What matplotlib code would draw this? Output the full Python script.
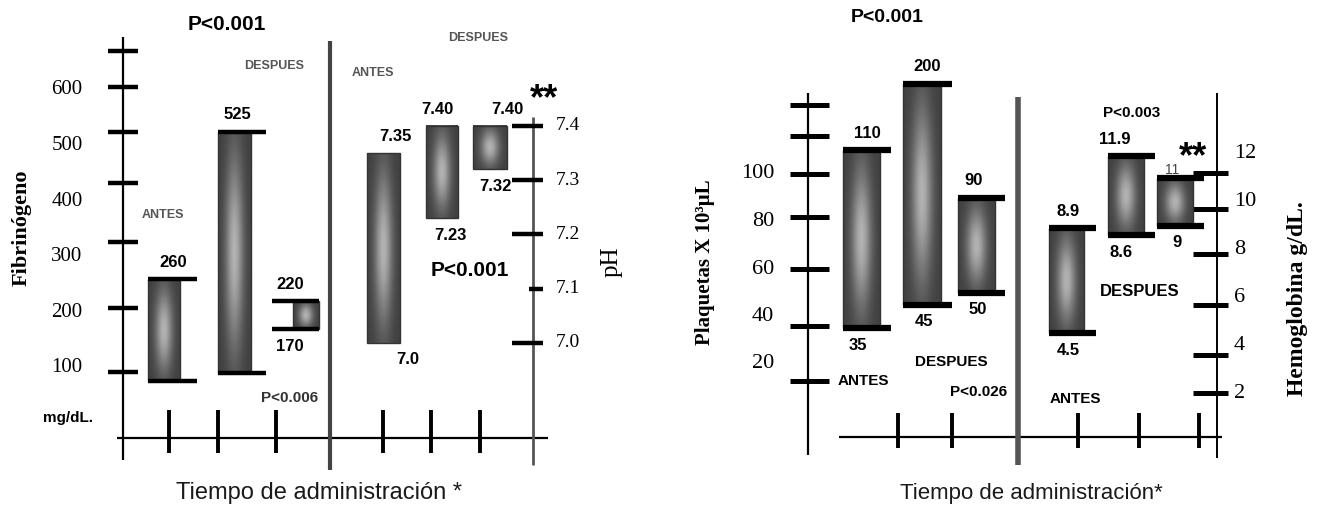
import matplotlib
matplotlib.use('Agg')
import matplotlib.pyplot as plt
import numpy as np
from matplotlib.patches import Rectangle

# ---- data ----
# left panel: fibrinogen (mg/dL) and pH, right panel: platelets (x10^3/uL) and haemoglobin (g/dL)
fib_hi = [260, 525, 220]
fib_lo = [77, 91, 170]          # first two bottoms are not labelled in the original
fib_hi_txt = ['260', '525', '220']
fib_lo_txt = ['', '', '170']
fib_labels = [100, 200, 300, 400, 500, 600]
fib_marks = [93, 208, 327, 433, 525, 605, 670]   # hand drawn tick marks, axis units

ph_hi = [7.35, 7.40, 7.40]
ph_lo = [7.0, 7.23, 7.32]
ph_hi_txt = ['7.35', '7.40', '7.40']
ph_lo_txt = ['7.0', '7.23', '7.32']
ph_labels = [7.0, 7.1, 7.2, 7.3, 7.4]

plq_hi = [110, 138, 90]         # the "200" bar is drawn off scale in the original
plq_lo = [35, 45, 50]
plq_hi_txt = ['110', '200', '90']
plq_lo_txt = ['35', '45', '50']
plq_labels = [20, 40, 60, 80, 100]
plq_marks = [13, 36, 60, 82, 100, 116, 129]

hb_hi = [8.9, 11.9, 11]
hb_lo = [4.5, 8.6, 9]
hb_hi_txt = ['8.9', '11.9', '11']
hb_lo_txt = ['4.5', '8.6', '9']
hb_labels = [2, 4, 6, 8, 10, 12]
hb_marks = [2.0, 3.6, 5.7, 7.8, 9.7, 11.2]

# ---- layout (figure pixels) ----
W, H = 1320, 507
SANS = ['Liberation Sans', 'DejaVu Sans']
NARROW = ['Liberation Sans Narrow', 'Liberation Sans', 'DejaVu Sans']
SERIF = ['Liberation Serif', 'DejaVu Serif']

fig = plt.figure(figsize=(W / 100, H / 100), dpi=100)
fig.patch.set_facecolor('white')

base = fig.add_axes([0, 0, 1, 1], label='base')
base.set_xlim(0, W)
base.set_ylim(H, 0)
base.set_axis_off()


def value_axes(name, v0, p0, v1, p1):
    # v0 is drawn at pixel row p0 (from the top), v1 at p1
    s = (p0 - p1) / (v1 - v0)
    ax = fig.add_axes([0, 0, 1, 1], label=name)
    ax.set_axis_off()
    ax._lims = (v0 - (H - p0) / s, v0 + p0 / s)
    return ax


def shade():
    u = np.linspace(-1, 1, 40)
    w = np.linspace(-1, 1, 120)
    U, V = np.meshgrid(u, w)
    b = np.exp(-(U / 0.55) ** 2) * np.exp(-(V / 0.8) ** 2)
    return 0.25 + 0.45 * b


def draw_bars(ax, rects, caps, lo, hi, hi_txt, lo_txt, dx_hi, dx_lo, dy_hi=None,
              cap_lw=3.2, fs=12):
    if dy_hi is None:
        dy_hi = [17] * len(rects)
    for i in range(len(rects)):
        x0, x1 = rects[i]
        ax.imshow(shade(), extent=(x0, x1, lo[i], hi[i]), cmap='gray', vmin=0, vmax=1,
                  aspect='auto', interpolation='bilinear', zorder=2)
        ax.add_patch(Rectangle((x0, lo[i]), x1 - x0, hi[i] - lo[i], fill=False,
                               ec='#333333', lw=1.0, zorder=3))
        if caps is not None:
            ax.hlines([lo[i], hi[i]], caps[i][0], caps[i][1], color='black', lw=cap_lw, zorder=4)
        cx = (x0 + x1) / 2
        if hi_txt[i]:
            small = dy_hi[i] < 12
            ax.annotate(hi_txt[i], (cx, hi[i]), xytext=(dx_hi[i], dy_hi[i]),
                        textcoords='offset pixels', ha='center', va='center',
                        fontsize=10 if small else fs, fontweight='normal' if small else 'bold',
                        color='#444444' if small else 'black', family=SANS, zorder=5)
        if lo_txt[i]:
            ax.annotate(lo_txt[i], (cx, lo[i]), xytext=(dx_lo[i], -17), textcoords='offset pixels',
                        ha='center', va='center', fontsize=fs, fontweight='bold', family=SANS)


fib_ax = value_axes('fib', 100, 368, 600, 90)
ph_ax = value_axes('ph', 7.0, 343, 7.4, 126)
plq_ax = value_axes('plq', 20, 364, 100, 174)
hb_ax = value_axes('hb', 2, 393, 12, 154)

# ---- left panel frame ----
base.vlines(123, 37, 460, color='black', lw=1.6)
base.hlines(438, 117, 548, color='black', lw=1.6)
base.vlines([169, 218, 276, 383, 431, 480], 410, 453, color='black', lw=2.8)
base.vlines(330, 41, 470, color='#444444', lw=3)
base.vlines(533, 117, 465, color='#555555', lw=2)

fib_ax.hlines(fib_marks, 108, 138, color='black', lw=3.2)
for v in fib_labels:
    fib_ax.text(67, v, str(v), ha='center', va='center', fontsize=15, family=SERIF)
ph_ax.hlines(ph_labels, [512, 529, 512, 512, 512], 543, color='black', lw=3.2)
for v in ph_labels:
    ph_ax.text(556, v, f'{v:.1f}', ha='left', va='center', fontsize=14, family=SERIF)

draw_bars(fib_ax, [(148, 180), (218, 251), (293, 319)], [(148, 197), (218, 266), (272, 319)],
          fib_lo, fib_hi, fib_hi_txt, fib_lo_txt, [9, 3, -16], [0, 0, -16])
draw_bars(ph_ax, [(367, 400), (426, 458), (473, 507)], None,
          ph_lo, ph_hi, ph_hi_txt, ph_lo_txt, [12, -5, 17], [24, 8, 5])

base.text(227, 25, 'P<0.001', ha='center', va='center', fontsize=15, fontweight='bold', family=SANS)
base.text(470, 270, 'P<0.001', ha='center', va='center', fontsize=15, fontweight='bold', family=SANS)
base.text(290, 398, 'P<0.006', ha='center', va='center', fontsize=11, fontweight='bold',
          family=NARROW, color='#333333')
for x, y, s in [(274, 66, 'DESPUES'), (163, 215, 'ANTES'), (373, 73, 'ANTES'), (478, 38, 'DESPUES')]:
    base.text(x, y, s, ha='center', va='center', fontsize=9, fontweight='bold', family=SANS,
              color='#555555')
base.text(544, 109, '**', ha='center', va='baseline', fontsize=26, fontweight='bold', family=SANS)
base.text(68, 418, 'mg/dL.', ha='center', va='center', fontsize=11, fontweight='bold', family=SANS)
base.text(22, 228, 'Fibrinógeno', rotation=90, ha='center', va='center', fontsize=16,
          fontweight='bold', family=SERIF)
base.text(612, 262, 'pH', rotation=90, ha='center', va='center', fontsize=18, family=SERIF)
base.text(319, 493, 'Tiempo de administración *', ha='center', va='center', fontsize=17,
          family=SANS, color='#1a1a1a')

# ---- right panel frame ----
base.vlines(808, 93, 455, color='black', lw=1.6)
base.hlines(437, 839, 1222, color='black', lw=1.6)
base.vlines([898, 952, 1078, 1139, 1199], 413, 448, color='black', lw=2.8)
base.vlines(1018, 97, 465, color='#555555', lw=4)
base.vlines(1217, 93, 458, color='black', lw=1.4)

plq_ax.hlines(plq_marks, 790, 829, color='black', lw=3.6)
for v in plq_labels:
    plq_ax.text(774, v, str(v), ha='right', va='center', fontsize=16, family=SERIF)
hb_ax.hlines(hb_marks, 1193, 1228, color='black', lw=3.6)
for v in hb_labels:
    hb_ax.text(1234, v, str(v), ha='left', va='center', fontsize=16, family=SERIF)

draw_bars(plq_ax, [(843, 880), (903, 941), (958, 995)], [(843, 891), (903, 952), (958, 1005)],
          plq_lo, plq_hi, plq_hi_txt, plq_lo_txt, [6, 5, -3], [-4, 2, 1], cap_lw=4.5)
draw_bars(hb_ax, [(1049, 1084), (1108, 1144), (1157, 1193)],
          [(1049, 1096), (1108, 1155), (1157, 1204)],
          hb_lo, hb_hi, hb_hi_txt, hb_lo_txt, [2, -11, -3], [2, -5, 2], dy_hi=[17, 17, 8],
          cap_lw=4.5)

base.text(887, 18, 'P<0.001', ha='center', va='center', fontsize=14, fontweight='bold', family=SANS)
base.text(1132, 113, 'P<0.003', ha='center', va='center', fontsize=11, fontweight='bold', family=SANS)
base.text(979, 392, 'P<0.026', ha='center', va='center', fontsize=11, fontweight='bold', family=SANS)
for x, y, s, fs in [(863, 381, 'ANTES', 11), (951, 362, 'DESPUES', 11),
                    (1075, 399, 'ANTES', 11), (1140, 291, 'DESPUES', 12)]:
    base.text(x, y, s, ha='center', va='center', fontsize=fs, fontweight='bold', family=SANS)
base.text(1193, 167, '**', ha='center', va='baseline', fontsize=26, fontweight='bold', family=SANS)
base.text(705, 262, 'Plaquetas X 10³µL', rotation=90, ha='center', va='center', fontsize=15,
          fontweight='bold', family=SERIF)
base.text(1298, 299, 'Hemoglobina g/dL.', rotation=90, ha='center', va='center', fontsize=17,
          fontweight='bold', family=SERIF)
base.text(1031, 493, 'Tiempo de administración*', ha='center', va='center', fontsize=16,
          family=SANS, color='#1a1a1a')

for ax in (fib_ax, ph_ax, plq_ax, hb_ax):
    ax.set_xlim(0, W)
    ax.set_ylim(*ax._lims)

fig.savefig('out.png', dpi=100, facecolor='white')
